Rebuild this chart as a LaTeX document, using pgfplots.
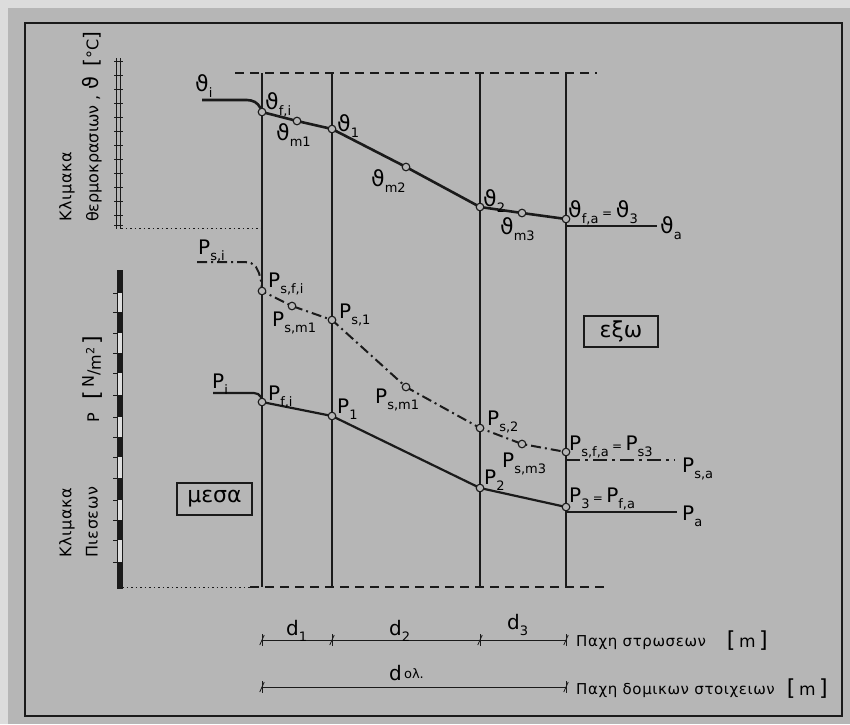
\documentclass[border=0pt]{standalone}
\usepackage{pgfplots}
\pgfplotsset{compat=1.18}
\usepackage{fontspec}
\setmainfont{DejaVu Sans}
\definecolor{panel}{HTML}{B6B6B6}
\definecolor{edge}{HTML}{DCDCDC}
\definecolor{ink}{HTML}{1A1A1A}
\newcommand{\sub}[1]{\raisebox{-0.55ex}{\fontsize{13}{13}\selectfont #1}}
\newcommand{\fs}{\fontsize{20}{23}\selectfont}
\newcommand{\fv}{\fontsize{22}{25}\selectfont}
\newcommand{\ft}{\fontsize{15}{17}\selectfont\addfontfeature{LetterSpace=4}}
\newcommand{\fr}{\fontsize{16}{18}\selectfont\addfontfeature{LetterSpace=4}}
\pgfdeclareplotmark{slash}{%
  \pgfpathmoveto{\pgfpoint{-0.45\pgfplotmarksize}{-\pgfplotmarksize}}%
  \pgfpathlineto{\pgfpoint{0.45\pgfplotmarksize}{\pgfplotmarksize}}%
  \pgfusepathqstroke}
\begin{document}
\begin{tikzpicture}
\begin{axis}[
  scale only axis, width=850pt, height=724pt,
  xmin=0, xmax=850, ymin=0, ymax=724, y dir=reverse,
  hide axis, clip=false,
]
% background and frame
\fill[edge] (axis cs:0,0) rectangle (axis cs:850,724);
\fill[panel] (axis cs:8,8) rectangle (axis cs:850,724);
\draw[ink, line width=1.6pt] (axis cs:25,23) rectangle (axis cs:842,716);

% interface lines
\addplot[ink, line width=1.4pt] coordinates {(262,73) (262,587)};
\addplot[ink, line width=1.4pt] coordinates {(332,73) (332,587)};
\addplot[ink, line width=1.4pt] coordinates {(480,73) (480,587)};
\addplot[ink, line width=1.4pt] coordinates {(566,73) (566,587)};
\addplot[ink, line width=1.2pt, dash pattern=on 9pt off 6pt] coordinates {(235,73) (597,73)};
\addplot[ink, line width=0.8pt, dash pattern=on 1.5pt off 3pt] coordinates {(122,587) (250,587)};
\addplot[ink, line width=1.2pt, dash pattern=on 9pt off 6pt] coordinates {(250,587) (604,587)};
\addplot[ink, line width=0.8pt, dash pattern=on 1.5pt off 3pt] coordinates {(121,228) (262,228)};

% temperature scale
\addplot[ink, line width=1pt] coordinates {(116.5,58) (116.5,229)};
\addplot[ink, line width=1pt] coordinates {(120.5,58) (120.5,229)};
\addplot[ink, only marks, mark=-, mark size=4.5pt, mark options={line width=0.9pt}] coordinates {
 (118,61) (118,75) (118,89) (118,103) (118,117) (118,131) (118,145) (118,159) (118,173) (118,187) (118,201) (118,215) (118,225)};

% pressure scale
\addplot[ink, line width=0.6pt, fill=white!55!panel] coordinates {(117.5,270) (122.5,270) (122.5,588) (117.5,588)} -- cycle;
\addplot[ink, line width=5pt] coordinates {(120,270) (120,293)};
\addplot[ink, line width=5pt] coordinates {(120,312) (120,333)};
\addplot[ink, line width=5pt] coordinates {(120,353) (120,373)};
\addplot[ink, line width=5pt] coordinates {(120,395) (120,417)};
\addplot[ink, line width=5pt] coordinates {(120,437) (120,457)};
\addplot[ink, line width=5pt] coordinates {(120,478) (120,500)};
\addplot[ink, line width=5pt] coordinates {(120,520) (120,540)};
\addplot[ink, line width=5pt] coordinates {(120,562) (120,588)};
\addplot[ink, only marks, mark=-, mark size=2pt, mark options={line width=0.6pt}] coordinates {
 (115,293) (115,312) (115,333) (115,353) (115,373) (115,395) (115,417) (115,437) (115,457) (115,478) (115,500) (115,520) (115,540) (115,562)};

% temperature curve
\addplot[ink, line width=2.6pt] coordinates {
 (202,100) (247,100) (251,100.5) (255,102) (258,104.5) (260.5,108) (262,112)
 (297,121) (332,129) (406,167) (480,207) (522,213) (566,219)};
\addplot[ink, line width=2.4pt] coordinates {(566,226) (657,226)};

% saturation pressure curve
\addplot[ink, line width=2pt, dash pattern=on 10pt off 4pt on 2pt off 4pt] coordinates {
 (197,262) (245,262) (251,263) (256,267) (259,273) (261,281) (262,291)
 (292,306) (332,320) (406,387) (480,428) (522,444) (566,452)};
\addplot[ink, line width=2.6pt, dash pattern=on 14pt off 5pt on 3pt off 5pt] coordinates {(566,460) (675,460)};

% vapour pressure curve
\addplot[ink, line width=2.2pt] coordinates {
 (213,393) (254,393) (258,394) (261,397) (262,402)
 (332,416) (480,488) (566,507)};
\addplot[ink, line width=2.2pt] coordinates {(566,512) (677,512)};

% circles
\addplot[only marks, mark=*, mark size=3.8pt, mark options={fill=panel, draw=ink, line width=1.1pt}] coordinates {
 (262,112) (297,121) (332,129) (406,167) (480,207) (522,213) (566,219)
 (262,291) (292,306) (332,320) (406,387) (480,428) (522,444) (566,452)
 (262,402) (332,416) (480,488) (566,507)};

% temperature labels
\node[anchor=base west, inner sep=0] at (axis cs:195,91) {\fv ϑ\sub{i}};
\node[anchor=base west, inner sep=0] at (axis cs:265,109) {\fv ϑ\sub{f,i}};
\node[anchor=base west, inner sep=0] at (axis cs:276,140) {\fv ϑ\sub{m1}};
\node[anchor=base west, inner sep=0] at (axis cs:337,131) {\fv ϑ\sub{1}};
\node[anchor=base west, inner sep=0] at (axis cs:371,186) {\fv ϑ\sub{m2}};
\node[anchor=base west, inner sep=0] at (axis cs:483,206) {\fv ϑ\sub{2}};
\node[anchor=base west, inner sep=0] at (axis cs:500,234) {\fv ϑ\sub{m3}};
\node[anchor=base west, inner sep=0] at (axis cs:568,217) {\fv ϑ\sub{f,a}\,{\fontsize{12}{12}\selectfont =}\,ϑ\sub{3}};
\node[anchor=base west, inner sep=0] at (axis cs:660,233) {\fv ϑ\sub{a}};

% pressure labels
\node[anchor=base west, inner sep=0] at (axis cs:198,254) {\fs P\sub{s,i}};
\node[anchor=base west, inner sep=0] at (axis cs:268,287) {\fs P\sub{s,f,i}};
\node[anchor=base west, inner sep=0] at (axis cs:272,326) {\fs P\sub{s,m1}};
\node[anchor=base west, inner sep=0] at (axis cs:339,318) {\fs P\sub{s,1}};
\node[anchor=base west, inner sep=0] at (axis cs:375,403) {\fs P\sub{s,m1}};
\node[anchor=base west, inner sep=0] at (axis cs:487,425) {\fs P\sub{s,2}};
\node[anchor=base west, inner sep=0] at (axis cs:502,467) {\fs P\sub{s,m3}};
\node[anchor=base west, inner sep=0] at (axis cs:569,450) {\fs P\sub{s,f,a}\,{\fontsize{12}{12}\selectfont =}\,P\sub{s3}};
\node[anchor=base west, inner sep=0] at (axis cs:682,472) {\fs P\sub{s,a}};
\node[anchor=base west, inner sep=0] at (axis cs:212,388) {\fs P\sub{i}};
\node[anchor=base west, inner sep=0] at (axis cs:268,400) {\fs P\sub{f,i}};
\node[anchor=base west, inner sep=0] at (axis cs:337,413) {\fs P\sub{1}};
\node[anchor=base west, inner sep=0] at (axis cs:484,484) {\fs P\sub{2}};
\node[anchor=base west, inner sep=0] at (axis cs:569,502) {\fs P\sub{3}\,{\fontsize{12}{12}\selectfont =}\,P\sub{f,a}};
\node[anchor=base west, inner sep=0] at (axis cs:682,520) {\fs P\sub{a}};

% boxes
\draw[ink, line width=1.4pt] (axis cs:177,483) rectangle (axis cs:252,515);
\node at (axis cs:214.5,499) {\fv μεσα};
\draw[ink, line width=1.4pt] (axis cs:584,316) rectangle (axis cs:658,347);
\node at (axis cs:621,331) {\fv εξω};

% scale titles
\node[rotate=90, anchor=west, inner sep=0] at (axis cs:67,222) {\fr Κλιμακα};
\node[rotate=90, anchor=west, inner sep=0] at (axis cs:92,222) {\fontsize{16}{18}\selectfont θερμοκρασιων ,\ {\fontsize{21}{23}\selectfont ϑ}\ \ {\fs [}°C{\fs ]}};
\node[rotate=90, anchor=west, inner sep=0] at (axis cs:67,558) {\fr Κλιμακα};
\node[rotate=90, anchor=west, inner sep=0] at (axis cs:92,558) {\fr Πιεσεων};
\node[rotate=90, anchor=west, inner sep=0] at (axis cs:92,423) {\fr P\hspace{14pt}{\fontsize{22}{24}\selectfont [}\,\raisebox{0.6ex}{N}/\raisebox{-0.2ex}{m\textsuperscript{2}}\,{\fontsize{22}{24}\selectfont ]}};

% thickness dimensions
\addplot[ink, line width=0.8pt] coordinates {(262,640) (566,640)};
\addplot[ink, line width=0.8pt] coordinates {(262,687) (566,687)};
\addplot[ink, only marks, mark=|, mark size=6pt, mark options={line width=0.8pt}] coordinates {(262,640) (332,640) (480,640) (566,640) (262,687) (566,687)};
\addplot[ink, only marks, mark=slash, mark size=5pt, mark options={line width=0.8pt}] coordinates {(262,640) (332,640) (480,640) (566,640) (262,687) (566,687)};
\node[anchor=base west, inner sep=0] at (axis cs:286,635) {\fs d\sub{1}};
\node[anchor=base west, inner sep=0] at (axis cs:389,635) {\fs d\sub{2}};
\node[anchor=base west, inner sep=0] at (axis cs:507,629) {\fs d\sub{3}};
\node[anchor=base west, inner sep=0] at (axis cs:389,680) {\fs d\raisebox{0.1ex}{\fontsize{13}{13}\selectfont\,ολ.}};
\node[anchor=base west, inner sep=0] at (axis cs:576,646) {\ft Παχη στρωσεων};
\node[anchor=base east, inner sep=0] at (axis cs:768,647) {\fv [\,{\fontsize{17}{19}\selectfont m}\,]};
\node[anchor=base west, inner sep=0] at (axis cs:576,694) {\ft Παχη δομικων στοιχειων};
\node[anchor=base east, inner sep=0] at (axis cs:828,695) {\fv [\,{\fontsize{17}{19}\selectfont m}\,]};
\end{axis}
\end{tikzpicture}
\end{document}
